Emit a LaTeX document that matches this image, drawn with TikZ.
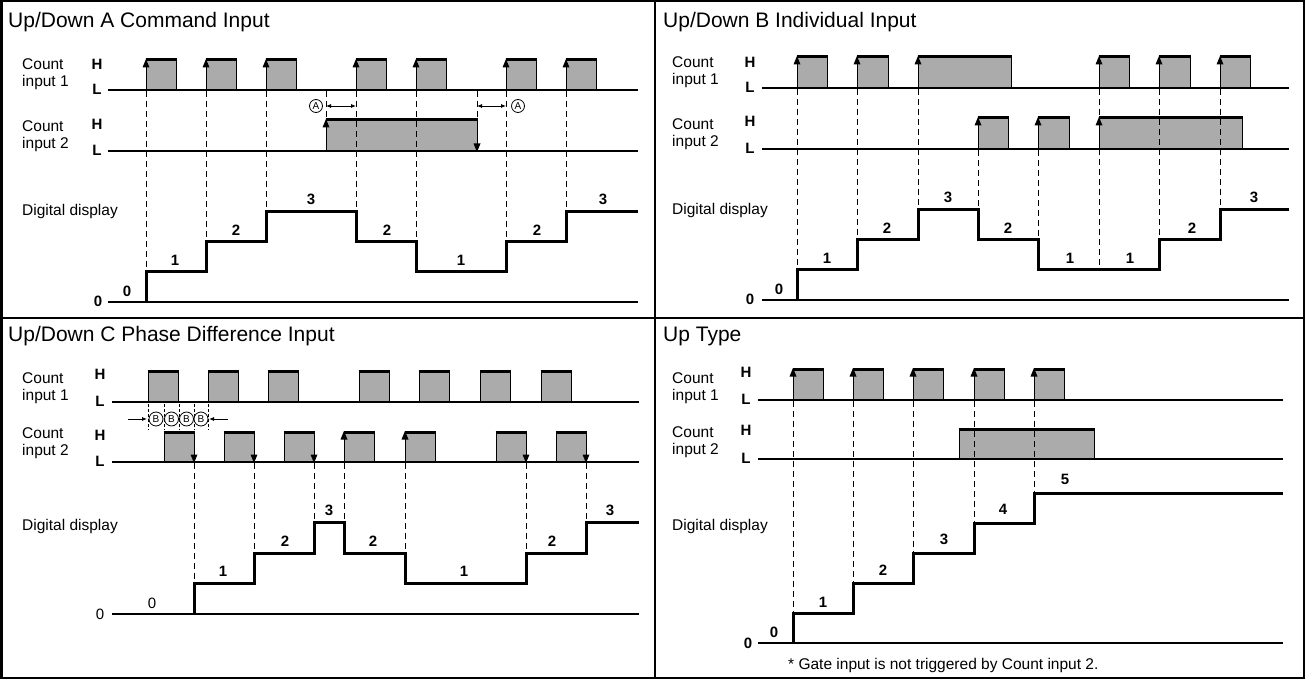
\documentclass[tikz,border=0pt]{standalone}
\usepackage{fontspec}
\setmainfont{Liberation Sans}
\usetikzlibrary{arrows.meta}
\tikzset{
 pfill/.style={fill=black!33},
 pside/.style={line width=0.9pt},
 ptop/.style={line width=3pt},
 sig/.style={line width=1.4pt},
 zline/.style={line width=1.8pt},
 disp/.style={line width=3pt, line join=miter},
 dsh/.style={line width=0.9pt, dash pattern=on 6pt off 4pt},
 frm/.style={line width=2.5pt},
 lbl/.style={font=\fontsize{15.5}{17}\selectfont, align=left, anchor=west, inner sep=0pt},
 ttl/.style={font=\fontsize{21}{25}\selectfont, anchor=base west, inner sep=0pt},
 hl/.style={font=\fontsize{15}{15}\selectfont\bfseries, inner sep=0pt},
 numb/.style={font=\fontsize{15}{15}\selectfont\bfseries, inner sep=0pt},
 numr/.style={font=\fontsize{15}{15}\selectfont, inner sep=0pt},
 circmark/.style={circle, draw, line width=0.8pt, minimum size=13pt, inner sep=0pt, font=\fontsize{10}{10}\selectfont, fill=white},
 darr/.style={line width=0.8pt, {Latex[length=5pt,width=4pt]}-{Latex[length=5pt,width=4pt]}},
 sarr/.style={line width=0.8pt, -{Latex[length=5pt,width=4pt]}},
 foot/.style={font=\fontsize{15.5}{17}\selectfont, anchor=west, inner sep=0pt},
}
% pulse: x1, x2, yH, yL
\newcommand\pulse[4]{%
  \fill[pfill] (#1,#3) rectangle (#2,#4);
  \draw[pside] (#1,#4) -- (#1,#3) (#2,#3) -- (#2,#4);
  \draw[ptop] (#1-0.5,#3) -- (#2+0.5,#3);}
\newcommand\uparr[2]{\fill (#1,#2-1) -- ++(-3.5,8.5) -- ++(7,0) -- cycle;}
\newcommand\dnarr[2]{\fill (#1,#2+1) -- ++(-3.5,-8.5) -- ++(7,0) -- cycle;}
\begin{document}
\begin{tikzpicture}[x=1pt,y=-1pt]
\useasboundingbox (0,0) rectangle (1305,679);
\fill[white] (0,0) rectangle (1305,679);
% frame
\draw[frm] (1.25,1.25) rectangle (1303.75,677.75);
\draw[frm] (655,0) -- (655,679);
\draw[frm] (0,318) -- (1305,318);

%%%%%%%%%%%%%%%% A
\node[ttl] (ta) at (8,28) {Up/Down A Command Input};
\node[lbl] (a1) at (22,74) {Count\\input 1};
\node[hl] (a1h) at (97,64) {H};
\node[hl] (a1l) at (97,89) {L};
\node[lbl] (a2) at (22,136) {Count\\input 2};
\node[hl] (a2h) at (97,124) {H};
\node[hl] (a2l) at (97,150) {L};
\node[lbl] (ad) at (22,211) {Digital display};
\node[numb] (a0) at (98,301) {0};
\foreach \x in {146,206,266,356,416,506,566}{\pulse{\x}{\x+30}{60}{90}}
\pulse{326}{477}{120}{151}
\draw[sig] (108,90) -- (638,90);
\draw[sig] (108,151) -- (638,151);
\draw[zline] (108,302) -- (638,302);
\foreach \x in {146,206,266,356,416,506,566}{\uparr{\x}{60}}
\uparr{326}{120}
\dnarr{477}{151}
\draw[dsh] (146,91) -- (146,271);
\draw[dsh] (206,91) -- (206,241);
\draw[dsh] (266,91) -- (266,211);
\draw[dsh] (356,91) -- (356,211);
\draw[dsh] (416,91) -- (416,241);
\draw[dsh] (506,91) -- (506,241);
\draw[dsh] (566,91) -- (566,211);
\draw[dsh] (326,91) -- (326,120);
\draw[dsh] (477,91) -- (477,120);
\node[circmark] (ca1) at (316,106) {A};
\node[circmark] (ca2) at (518,106) {A};
\draw[darr] (326,106) -- (356,106);
\draw[darr] (477,106) -- (506,106);
\draw[disp] (146,302) -- (146,271) -- (206,271) -- (206,241) -- (266,241) -- (266,211) -- (356,211) -- (356,241) -- (416,241) -- (416,271) -- (506,271) -- (506,241) -- (566,241) -- (566,211) -- (638,211);
\node[numb] (an0) at (127,291) {0};
\node[numb] (an1) at (175,260) {1};
\node[numb] (an2) at (236,230) {2};
\node[numb] (an3) at (311,199) {3};
\node[numb] (an4) at (387,230) {2};
\node[numb] (an5) at (461,260) {1};
\node[numb] (an6) at (537,230) {2};
\node[numb] (an7) at (603,199) {3};

%%%%%%%%%%%%%%%% B
\node[ttl] (tb) at (663,28) {Up/Down B Individual Input};
\node[lbl] (b1) at (672,72) {Count\\input 1};
\node[hl] (b1h) at (750,62) {H};
\node[hl] (b1l) at (750,87) {L};
\node[lbl] (b2) at (672,134) {Count\\input 2};
\node[hl] (b2h) at (750,121) {H};
\node[hl] (b2l) at (750,148) {L};
\node[lbl] (bd) at (672,210) {Digital display};
\node[numb] (b0) at (750,299) {0};
\pulse{797}{827}{57}{88}
\pulse{857}{888}{57}{88}
\pulse{918}{1011}{57}{88}
\pulse{1099}{1129}{57}{88}
\pulse{1159}{1190}{57}{88}
\pulse{1220}{1250}{57}{88}
\pulse{978}{1008}{118}{149}
\pulse{1038}{1069}{118}{149}
\pulse{1099}{1242}{118}{149}
\draw[sig] (762,88) -- (1289,88);
\draw[sig] (762,149) -- (1289,149);
\draw[zline] (762,300) -- (1289,300);
\foreach \x in {797,857,918,1099,1159,1220}{\uparr{\x}{57}}
\foreach \x in {978,1038,1099}{\uparr{\x}{118}}
\draw[dsh] (797,89) -- (797,269);
\draw[dsh] (857,89) -- (857,239);
\draw[dsh] (918,89) -- (918,209);
\draw[dsh] (1099,89) -- (1099,269);
\draw[dsh] (1159,89) -- (1159,239);
\draw[dsh] (1220,89) -- (1220,209);
\draw[dsh] (978,150) -- (978,209);
\draw[dsh] (1038,150) -- (1038,239);
\draw[disp] (797,300) -- (797,269) -- (857,269) -- (857,239) -- (918,239) -- (918,209) -- (978,209) -- (978,239) -- (1038,239) -- (1038,269) -- (1159,269) -- (1159,239) -- (1220,239) -- (1220,209) -- (1289,209);
\node[numb] (bn0) at (779,289) {0};
\node[numb] (bn1) at (827,258) {1};
\node[numb] (bn2) at (887,228) {2};
\node[numb] (bn3) at (948,197) {3};
\node[numb] (bn4) at (1008,228) {2};
\node[numb] (bn5) at (1070,258) {1};
\node[numb] (bn6) at (1130,258) {1};
\node[numb] (bn7) at (1192,228) {2};
\node[numb] (bn8) at (1254,197) {3};

%%%%%%%%%%%%%%%% C
\node[ttl] (tc) at (8,341) {Up/Down C Phase Difference Input};
\node[lbl] (c1) at (22,388) {Count\\input 1};
\node[hl] (c1h) at (100,374) {H};
\node[hl] (c1l) at (100,401) {L};
\node[lbl] (c2) at (22,443) {Count\\input 2};
\node[hl] (c2h) at (100,435) {H};
\node[hl] (c2l) at (100,461) {L};
\node[lbl] (cd) at (22,526) {Digital display};
\node[numr] (c0) at (100,614) {0};
\foreach \x in {148,208,268,359,419,480,541}{\pulse{\x}{\x+30}{371}{402}}
\foreach \x in {164,224,284,344,405,496,556}{\pulse{\x}{\x+30}{432}{462}}
\draw[sig] (112,402) -- (639,402);
\draw[sig] (112,462) -- (639,462);
\draw[zline] (112,614) -- (639,614);
\foreach \x in {194,254,314,526,586}{\dnarr{\x}{462}}
\foreach \x in {344,405}{\uparr{\x}{432}}
\draw[dsh] (194,463) -- (194,583);
\draw[dsh] (254,463) -- (254,553);
\draw[dsh] (314,463) -- (314,522);
\draw[dsh] (344,463) -- (344,522);
\draw[dsh] (405,463) -- (405,553);
\draw[dsh] (526,463) -- (526,553);
\draw[dsh] (586,463) -- (586,522);
\foreach \x in {148,164,179,194,208}{\draw[line width=0.7pt, dash pattern=on 3pt off 2pt] (\x,404) -- (\x,430);}
\node[circmark, minimum size=14pt] (cb1) at (156,419) {B};
\node[circmark, minimum size=14pt] (cb2) at (171.5,419) {B};
\node[circmark, minimum size=14pt] (cb3) at (186.5,419) {B};
\node[circmark, minimum size=14pt] (cb4) at (201,419) {B};
\coordinate (cbl) at (128,419);
\coordinate (cbr) at (228,419);
\draw[sarr] (cbl) -- (147,419);
\draw[sarr] (cbr) -- (209,419);
\draw[disp] (194,614) -- (194,583) -- (254,583) -- (254,553) -- (314,553) -- (314,522) -- (344,522) -- (344,553) -- (405,553) -- (405,583) -- (526,583) -- (526,553) -- (586,553) -- (586,522) -- (639,522);
\node[numr] (cn0) at (152,603) {0};
\node[numb] (cn1) at (223,571) {1};
\node[numb] (cn2) at (285,541) {2};
\node[numb] (cn3) at (329,510) {3};
\node[numb] (cn4) at (373,541) {2};
\node[numb] (cn5) at (464,571) {1};
\node[numb] (cn6) at (552,541) {2};
\node[numb] (cn7) at (610,510) {3};

%%%%%%%%%%%%%%%% D
\node[ttl] (td) at (663,341) {Up Type};
\node[lbl] (d1) at (672,388) {Count\\input 1};
\node[hl] (d1h) at (746,372) {H};
\node[hl] (d1l) at (746,399) {L};
\node[lbl] (d2) at (672,442) {Count\\input 2};
\node[hl] (d2h) at (746,430) {H};
\node[hl] (d2l) at (746,458) {L};
\node[lbl] (dd) at (672,526) {Digital display};
\node[numb] (d0) at (748,643) {0};
\foreach \x in {793,853,913,974,1034}{\pulse{\x}{\x+30}{369}{400}}
\pulse{959}{1094}{429}{459}
\draw[sig] (758,400) -- (1283,400);
\draw[sig] (758,459) -- (1283,459);
\draw[zline] (758,643) -- (1283,643);
\foreach \x in {793,853,913,974,1034}{\uparr{\x}{369}}
\draw[dsh] (793,401) -- (793,613);
\draw[dsh] (853,401) -- (853,583);
\draw[dsh] (913,401) -- (913,553);
\draw[dsh] (974,401) -- (974,523);
\draw[dsh] (1034,401) -- (1034,493);
\draw[disp] (793,643) -- (793,613) -- (853,613) -- (853,583) -- (913,583) -- (913,553) -- (974,553) -- (974,523) -- (1034,523) -- (1034,493) -- (1283,493);
\node[numb] (dn0) at (774,632) {0};
\node[numb] (dn1) at (823,602) {1};
\node[numb] (dn2) at (883,570) {2};
\node[numb] (dn3) at (944,539) {3};
\node[numb] (dn4) at (1003,509) {4};
\node[numb] (dn5) at (1065,479) {5};
\node[foot] (fn) at (788,665) {* Gate input is not triggered by Count input 2.};
\end{tikzpicture}
\end{document}
